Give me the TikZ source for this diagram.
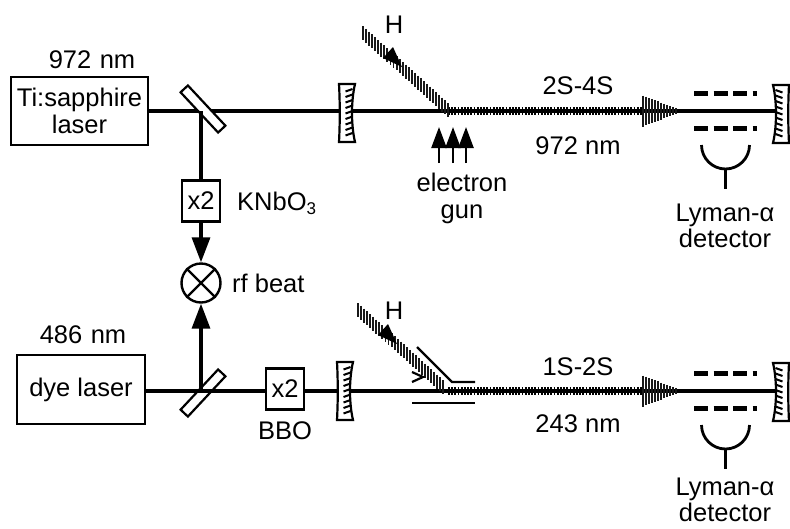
\documentclass[tikz,border=0pt]{standalone}
\usepackage{fontspec}
\setmainfont{Liberation Sans}
\usetikzlibrary{arrows.meta}
\tikzset{
	beam/.style={line width=3.6pt},
	hatch/.style={line width=1.9pt, black!90},
	lbl/.style={inner sep=0pt, align=center, font=\fontsize{25.5}{26.5}\selectfont},
	laserbox/.style={draw, line width=2pt, inner sep=0pt, align=center, font=\fontsize{25.5}{26.5}\selectfont},
	doubler/.style={draw, fill=white, line width=2.2pt, minimum width=38pt, minimum height=41pt, inner sep=0pt, font=\fontsize{25.5}{26.5}\selectfont},
	splitter/.style={draw, fill=white, line width=2.2pt, minimum width=55pt, minimum height=10pt, inner sep=0pt},
	mixer/.style={draw, circle, line width=2.4pt, minimum size=39pt, inner sep=0pt},
	blackarrow/.style={-{Triangle[length=25pt,width=18pt]}, line width=3.4pt}
}
\begin{document}
\begin{tikzpicture}[x=1pt,y=-1pt]
\useasboundingbox (0,0) rectangle (790,528);
% lasers
\node[laserbox, minimum width=137pt, minimum height=68pt] (tisa) at (79.5,111) {Ti:sapphire\\laser};
\node[laserbox, minimum width=128pt, minimum height=69pt] (dye) at (81,389.5) {dye laser};
\node[lbl] (tisanm) at (92,60) {972\,\,nm};
\node[lbl] (dyenm) at (83,335) {486\,\,nm};
% ends of the beams
\coordinate (mirA) at (347,111);
\coordinate (mirB) at (345,391);
\coordinate (endA) at (780,111);
\coordinate (endB) at (780,391);
\node[doubler] (dblA) at (201,201) {x2};
\node[doubler] (dblB) at (285,389) {x2};
\node[mixer] (mix) at (201,283) {};
\draw[line width=2.4pt] (mix.north west) -- (mix.south east) (mix.north east) -- (mix.south west);
% beams
\draw[beam] (tisa.east) -- (mirA) -- (endA);
\draw[beam] (dye.east |- mirB) -- (mirB) -- (endB);
\node[splitter, rotate=-47] (splitA) at (203,109) {};
\coordinate (splitAb) at (201,111);
\coordinate (splitBb) at (201,391);
\draw[beam] (splitAb) -- (dblA);
\draw[blackarrow] (dblA.south) -- (mix.north);
\draw[blackarrow] (splitBb) -- (mix.south);
\node[splitter, fill=none, rotate=47] (splitB) at (203,393) {};
\node[doubler] at (dblB) {x2};
% overlap region and focus of the light
\foreach \by in {111,391} {
	\draw[line width=8pt, dash pattern=on 1.7pt off 1.5pt] (448,\by) -- (643,\by);
	\foreach \i in {0,...,11} {
		\pgfmathsetmacro{\conex}{643+3*\i}
		\pgfmathsetmacro{\coneh}{14*(1-\i/12)+1.5}
		\draw[hatch] (\conex,\by-\coneh) -- (\conex,\by+\coneh);
	}
	\draw[line width=5pt, dash pattern=on 14pt off 5.5pt] (694,\by-17.5) -- (757,\by-17.5);
	\draw[line width=5pt, dash pattern=on 14pt off 5.5pt] (694,\by+17.5) -- (757,\by+17.5);
	\draw[line width=2.8pt] (701.5,\by+34) arc [start angle=180, end angle=360, x radius=24, y radius=-24];
	\draw[line width=3pt] (725.5,\by+58) -- (725.5,\by+78);
}
% atomic beams
\foreach \hx/\hy in {363/30, 358/307} {
	\foreach \i in {0,...,28} {
		\pgfmathsetmacro{\hatchx}{\hx+3.05*\i}
		\pgfmathsetmacro{\hatchy}{\hy+2.75*\i}
		\draw[hatch] (\hatchx,\hatchy-4) -- (\hatchx,\hatchy+10);
	}
	\fill (\hx+39,\hy+37) -- (\hx+20,\hy+28) -- (\hx+30,\hy+17) -- cycle;
}
\node[lbl] (hA) at (394,25) {H};
\node[lbl] (hB) at (394,311) {H};
% mirrors
\foreach \mx/\my/\mflip in {347/113/1, 345/391/1, 781/114/-1, 781/392/-1} {
	\begin{scope}[shift={(\mx,\my)}, xscale=\mflip]
		\filldraw[fill=white, line width=2.2pt] (-8,-29) -- (8,-29) .. controls (4,-12) and (4,12) .. (8,29) -- (-8,29) .. controls (-7,10) and (-7,-10) .. (-8,-29) -- cycle;
		\foreach \t in {-24,-18.5,...,25} {
			\draw[line width=2pt] (5.5,\t) -- (-1.5,\t+2.5);
		}
	\end{scope}
}
% electron gun
\foreach \gx in {439,453,466}
	\draw[-{Triangle[length=21pt,width=15pt]}, line width=2.4pt] (\gx,163) -- (\gx,127);
\node[lbl] (gun) at (462,198.5) {electron\\gun};
% electrodes
\draw[line width=2.2pt] (417,347) -- (452,382) -- (475,382);
\draw[line width=2.2pt] (412,403) -- (475,403);
\draw[line width=2.2pt] (412,372) -- (423,377) -- (412,382);
% labels
\node[lbl, anchor=west] (knbo) at (237,203) {KNbO\raisebox{-4pt}{\fontsize{17}{17}\selectfont 3}};
\node[lbl, anchor=west] (rf) at (232,283) {rf beat};
\node[lbl] (bbo) at (285,431) {BBO};
\node[lbl] (transA) at (578,86) {2S-4S};
\node[lbl] (waveA) at (578,146) {972 nm};
\node[lbl] (transB) at (578,367) {1S-2S};
\node[lbl] (waveB) at (578,424) {243 nm};
\node[lbl] (lymanA) at (725,226) {Lyman-α\\detector};
\node[lbl] (lymanB) at (725,500) {Lyman-α\\detector};
\end{tikzpicture}
\end{document}
